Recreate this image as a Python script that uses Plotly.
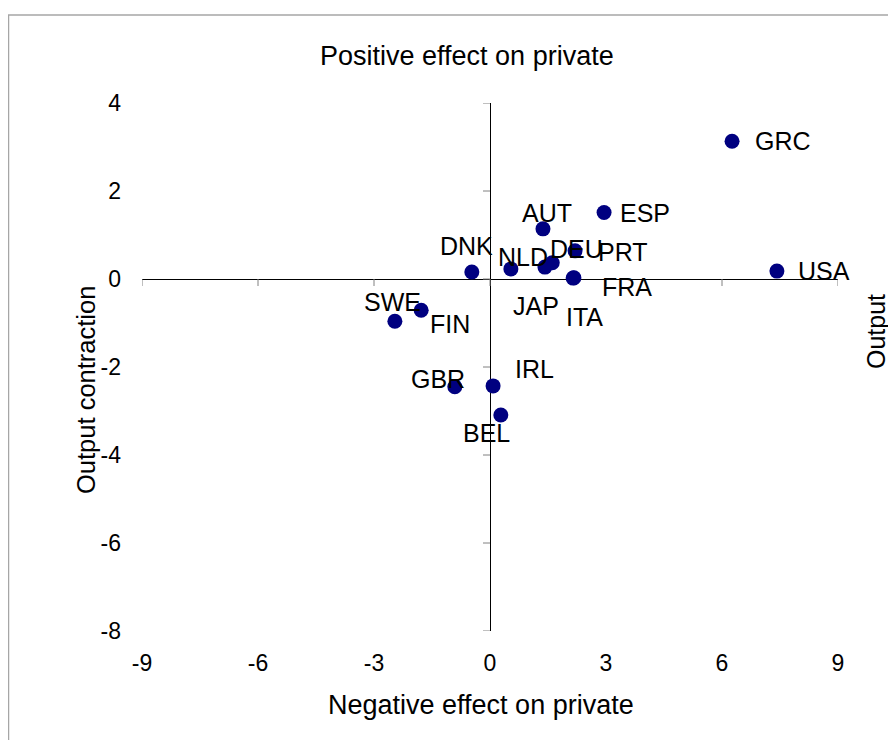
import plotly.graph_objects as go

# ---- data ----
countries = ["GRC", "ESP", "AUT", "USA", "DNK", "NLD", "JAP", "DEU", "PRT",
             "FRA", "ITA", "SWE", "FIN", "GBR", "IRL", "BEL"]
x_vals = [6.26, 2.95, 1.37, 7.42, -0.47, 0.54, 1.42, 1.61, 2.20,
          2.17, 2.15, -2.46, -1.78, -0.91, 0.08, 0.28]
y_vals = [3.13, 1.51, 1.14, 0.18, 0.16, 0.23, 0.27, 0.37, 0.64,
          0.03, 0.02, -0.96, -0.71, -2.45, -2.43, -3.09]
x_ticks = [-9, -6, -3, 0, 3, 6, 9]
y_ticks = [4, 2, 0, -2, -4, -6, -8]

title_text = "Positive effect on private"
x_title = "Negative effect on private"
y_title = "Output contraction"
y2_title = "Output"

# label pixel offsets (dx right, dy down) relative to each point
label_offsets = [(51, 0), (41, 0), (4, -16), (47, 0), (-5, -26), (12, -12),
                 (-9, 39), (24, -14), (48, 1), (53, 9), (11, 39), (-2, -19),
                 (29, 14), (-17, -8), (41, -17), (-14, 18)]

FONT = "Liberation Sans, Arial, sans-serif"

# page offset of the figure (body margin) -> plot area in figure pixels
OFF = 8
PL, PR, PT, PB = 142 - OFF, 838 - OFF, 103 - OFF, 631 - OFF
W, H = 896, 740
PW, PH = PR - PL, PB - PT


def px(xp):
    return (xp - OFF - PL) / PW


def py(yp):
    return (PB - (yp - OFF)) / PH


fig = go.Figure()
fig.add_trace(go.Scatter(
    x=x_vals, y=y_vals, mode="markers", text=countries,
    marker=dict(size=15, color="#000080", line=dict(width=0)),
    hoverinfo="text", showlegend=False,
))

annotations = []
for c, xv, yv, (dx, dy) in zip(countries, x_vals, y_vals, label_offsets):
    annotations.append(dict(x=xv, y=yv, xref="x", yref="y", text=c,
                            showarrow=False, xanchor="center", yanchor="middle",
                            xshift=dx, yshift=-dy,
                            font=dict(family=FONT, size=25, color="black")))

# titles (positions in page pixels converted to paper coords)
annotations.append(dict(x=px(467), y=py(56), xref="paper", yref="paper", text=title_text,
                        showarrow=False, xanchor="center", yanchor="middle",
                        font=dict(family=FONT, size=27, color="black")))
annotations.append(dict(x=px(481), y=py(705), xref="paper", yref="paper", text=x_title,
                        showarrow=False, xanchor="center", yanchor="middle",
                        font=dict(family=FONT, size=27, color="black")))
annotations.append(dict(x=px(86), y=py(390), xref="paper", yref="paper", text=y_title,
                        showarrow=False, xanchor="center", yanchor="middle", textangle=-90,
                        font=dict(family=FONT, size=25.5, color="black")))
annotations.append(dict(x=px(876), y=py(331), xref="paper", yref="paper", text=y2_title,
                        showarrow=False, xanchor="center", yanchor="middle", textangle=-90,
                        font=dict(family=FONT, size=25, color="black")))

shapes = []
# tick marks on the crossing axes
for t in x_ticks:
    shapes.append(dict(type="line", xref="x", yref="y", x0=t, x1=t,
                       ysizemode="pixel", yanchor=0, y0=0, y1=-7,
                       line=dict(color="#808080", width=1)))
for t in y_ticks:
    shapes.append(dict(type="line", xref="x", yref="y", y0=t, y1=t,
                       xsizemode="pixel", xanchor=0, x0=-7, x1=0,
                       line=dict(color="#808080", width=1)))
# chart-area border
shapes.append(dict(type="rect", xref="paper", yref="paper",
                   x0=px(8.5), x1=px(930), y0=py(780), y1=py(15),
                   line=dict(color="#a6a6a6", width=1.5), layer="below"))

fig.update_layout(
    width=W, height=H,
    margin=dict(l=PL, r=W - PR, t=PT, b=H - PB),
    paper_bgcolor="white", plot_bgcolor="white",
    xaxis=dict(range=[-9, 9], tickvals=x_ticks, ticktext=[str(v) for v in x_ticks],
               showgrid=False, showline=False, zeroline=True, zerolinecolor="black",
               zerolinewidth=1, ticks="", ticklabelstandoff=16,
               tickfont=dict(family=FONT, size=23, color="black"), fixedrange=True),
    yaxis=dict(range=[-8, 4], tickvals=y_ticks, ticktext=[str(v) for v in y_ticks],
               showgrid=False, showline=False, zeroline=True, zerolinecolor="black",
               zerolinewidth=1, ticks="", ticklabelstandoff=20,
               tickfont=dict(family=FONT, size=23, color="black"), fixedrange=True),
    annotations=annotations,
    shapes=shapes,
)

fig.write_html("out.html")
